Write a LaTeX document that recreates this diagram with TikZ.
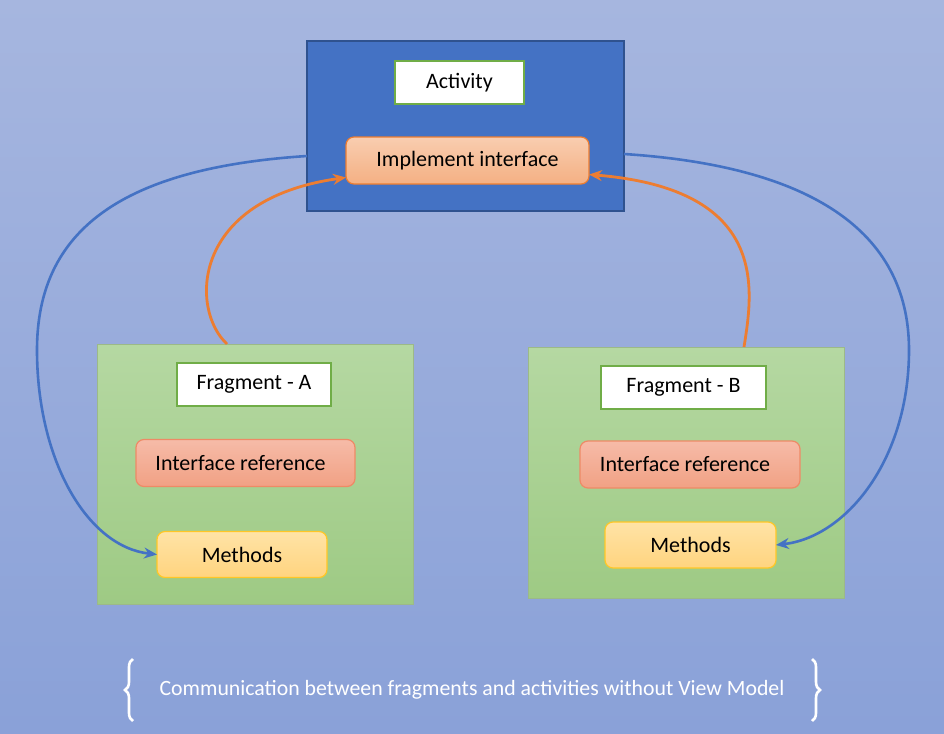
\documentclass[tikz,border=0pt]{standalone}
\usepackage{fontspec}
\setmainfont{Carlito}
\usetikzlibrary{arrows.meta,decorations.pathreplacing,calc}
\definecolor{bgtop}{HTML}{A6B6DF}
\definecolor{bgbot}{HTML}{8AA1D8}
\definecolor{actfill}{HTML}{4472C4}
\definecolor{actdraw}{HTML}{2F528F}
\definecolor{grn}{HTML}{70AD47}
\definecolor{orgtop}{HTML}{F9CDB0}
\definecolor{orgbot}{HTML}{F4B083}
\definecolor{orgdraw}{HTML}{ED7D31}
\definecolor{frtop}{HTML}{B5D8A2}
\definecolor{frbot}{HTML}{9ECA84}
\definecolor{irtop}{HTML}{F6BBA8}
\definecolor{irbot}{HTML}{F1A184}
\definecolor{irdraw}{HTML}{EE8A66}
\definecolor{mtop}{HTML}{FFE3A6}
\definecolor{mbot}{HTML}{FFD47F}
\definecolor{mdraw}{HTML}{FFC726}
\definecolor{blu}{HTML}{4472C4}
\begin{document}
\begin{tikzpicture}[x=1pt,y=-1pt,
  every node/.style={inner sep=0pt,outer sep=0pt,font=\fontsize{22}{25}\selectfont},
  actbox/.style={draw=actdraw,line width=1.8pt,fill=actfill,minimum width=317pt,minimum height=170pt},
  labelbox/.style={draw=grn,line width=2.2pt,fill=white},
  implbox/.style={draw=orgdraw,line width=1.2pt,rounded corners=8pt,top color=orgtop,bottom color=orgbot,minimum width=243pt,minimum height=47pt},
  fragbox/.style={draw=grn!80!black!60,line width=1pt,top color=frtop,bottom color=frbot},
  irbox/.style={draw=irdraw,line width=1.2pt,rounded corners=8pt,top color=irtop,bottom color=irbot,minimum width=219pt,minimum height=47pt},
  methbox/.style={draw=mdraw,line width=1.2pt,rounded corners=8pt,top color=mtop,bottom color=mbot,minimum width=170pt,minimum height=46pt},
  bluearrow/.style={draw=blu,line width=2.6pt,-{Stealth[length=13pt,width=11pt]}},
  orgarrow/.style={draw=orgdraw,line width=2.8pt,-{Stealth[length=13pt,width=11pt]}},
]
\useasboundingbox (0,0) rectangle (944,733);
\shade[top color=bgtop,bottom color=bgbot] (0,0) rectangle (944,733);

% Activity
\node[actbox] (act) at (465.5,126) {};
\node[labelbox,minimum width=129pt,minimum height=43pt] (actl) at (459.5,82.5) {Activity};
\node[implbox] (ii) at (467.5,160.5) {Implement interface};

% Fragment A
\node[fragbox,minimum width=316pt,minimum height=260pt] (fA) at (255,474) {};
\node[labelbox,minimum width=154pt,minimum height=43pt] (fAl) at (254,384.5) {Fragment - A};
\node[irbox] (irA) at (245.5,463) {Interface reference\hspace*{10pt}};
\node[methbox] (mA) at (242,554.5) {Methods};

% Fragment B
\node[fragbox,minimum width=316pt,minimum height=251pt] (fB) at (686,472.5) {};
\node[labelbox,minimum width=165pt,minimum height=43pt] (fBl) at (683.5,387.5) {Fragment - B};
\node[irbox,minimum width=220pt] (irB) at (690,464.5) {Interface reference\hspace*{10pt}};
\node[methbox,minimum width=171pt] (mB) at (690.5,545) {Methods};

% blue connectors
\coordinate (lb) at (37,350);
\coordinate (rb) at (909,350);
\path[bluearrow] ([yshift=-30pt]act.west) .. controls +(-185,12) and +(0,-120) .. (lb)
   .. controls +(0,110) and +(-70,-8) .. (mA.west);
\path[bluearrow] ([yshift=-28pt]act.east) .. controls +(185,12) and +(0,-120) .. (rb)
   .. controls +(0,110) and +(70,-8) .. (mB.east);

% orange connectors
\path[orgarrow] ([xshift=-28pt]fA.north) .. controls +(-37,-34) and +(-156,22) .. ([yshift=-17pt]ii.west);
\path[orgarrow] ([xshift=58pt]fB.north) .. controls +(9,-57) and +(181,15) .. ([yshift=-14pt]ii.east);

% caption
\node[text=white,font=\fontsize{21.8}{25}\selectfont] (cap) at (472,690) {Communication between fragments and activities without View Model};
\coordinate (lbt) at (133,659);
\coordinate (lbb) at (133,721);
\coordinate (rbt) at (812,659);
\coordinate (rbb) at (812,721);
\draw[white,line width=2.6pt,decorate,decoration={brace,amplitude=8pt}] (lbb) -- (lbt);
\draw[white,line width=2.6pt,decorate,decoration={brace,amplitude=8pt}] (rbt) -- (rbb);
\end{tikzpicture}
\end{document}
